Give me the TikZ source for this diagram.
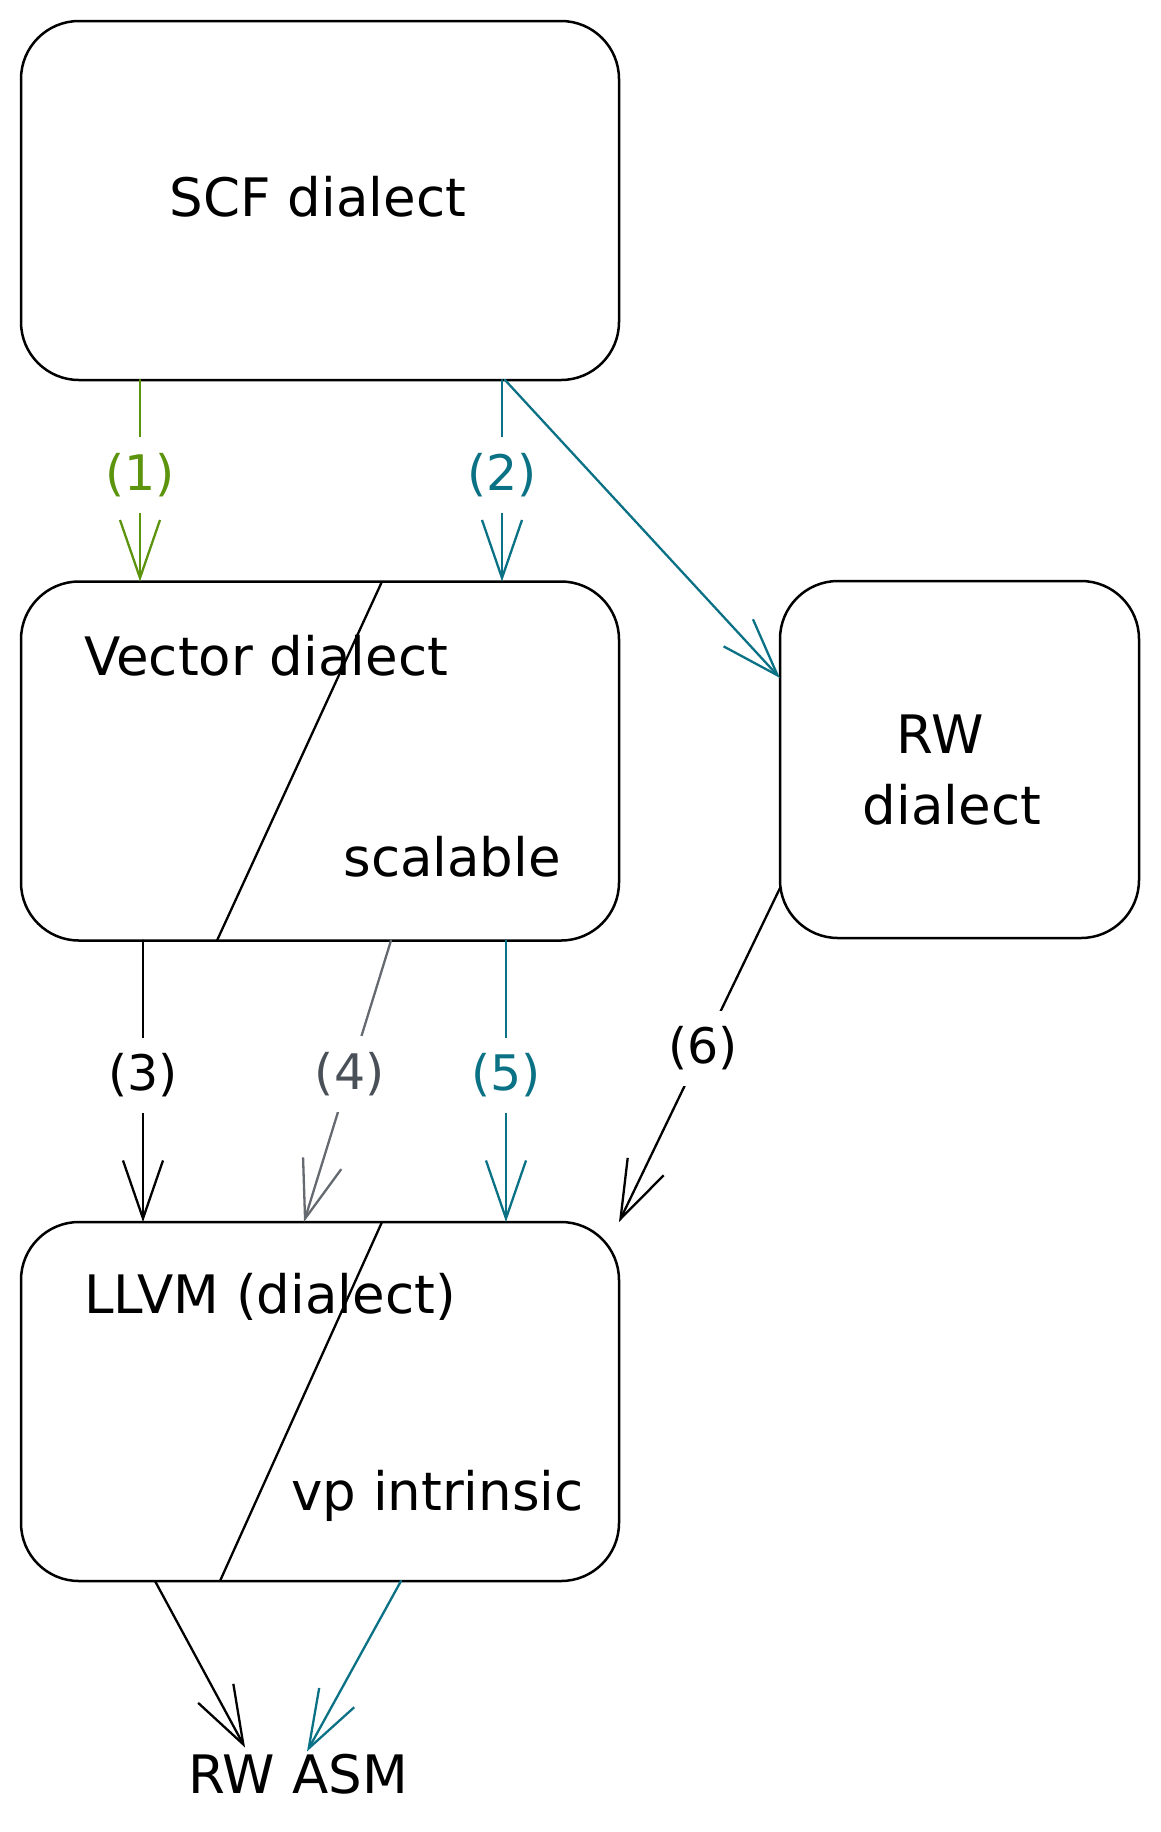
\documentclass[tikz,border=0pt]{standalone}
\usepackage{fontspec}
\setmainfont{DejaVu Sans}
\usetikzlibrary{arrows.meta}
\definecolor{cgreen}{HTML}{5C940D}
\definecolor{cteal}{HTML}{0B7285}
\definecolor{cgrey}{HTML}{495057}
\begin{document}
\begin{tikzpicture}[x=1pt,y=-1pt,
 box/.style={draw=black,line width=2.5pt,rounded corners=58pt,minimum width=598pt,minimum height=359pt,inner sep=0pt,outer sep=0pt},
 txt/.style={font=\fontsize{53}{58}\selectfont,inner sep=0pt},
 lbl/.style={font=\fontsize{49}{53}\selectfont,fill=white,inner sep=16pt},
 arr/.style={line width=2.3pt,line cap=round,-{Straight Barb[length=58pt,width=40pt]}},
 divline/.style={line width=2.3pt}]
\useasboundingbox (0,0) rectangle (1160,1832);

% boxes
\node[box] (scf) at (320,200.5) {};
\node[box] (vec) at (320,761) {};
\node[box,minimum width=359pt,minimum height=357pt] (rw) at (959.5,759.5) {};
\node[box] (llvm) at (320,1401.5) {};

% texts
\node[txt,anchor=base] (scft) at (318,216) {SCF dialect};
\node[txt,anchor=base west] (vect) at (84,675) {Vector dialect};
\node[txt,anchor=base east] (scal) at (561,876) {scalable};
\node[txt,anchor=base] (rwt1) at (940,753) {RW};
\node[txt,anchor=base] (rwt2) at (952,824) {dialect};
\node[txt,anchor=base west] (llvmt) at (84,1313) {LLVM (dialect)};
\node[txt,anchor=base east] (vpt) at (584,1510) {vp intrinsic};
\node[txt,anchor=base] (asm) at (298,1793) {RW ASM};

% dividing lines
\draw[divline] ([xshift=361pt]vec.north west) -- ([xshift=196pt]vec.south west);
\draw[divline] ([xshift=361pt]llvm.north west) -- ([xshift=199pt]llvm.south west);

% arrows
\draw[arr,cgreen] ([xshift=119pt]scf.south west) -- node[lbl,pos=0.47,text=cgreen] (l1) {(1)} ([xshift=119pt]vec.north west);
\draw[arr,cteal] ([xshift=481pt]scf.south west) -- node[lbl,pos=0.47,text=cteal] (l2) {(2)} ([xshift=481pt]vec.north west);
\draw[arr,cteal] ([xshift=484pt]scf.south west) -- ([yshift=-97pt]rw.north west);

\draw[arr,black] ([xshift=122pt]vec.south west) -- node[lbl,pos=0.48,text=black] (l3) {(3)} ([xshift=122pt]llvm.north west);
\draw[arr,cgrey!85] ([xshift=370pt]vec.south west) -- node[lbl,pos=0.475,text=cgrey] (l4) {(4)} ([xshift=283pt]llvm.north west);
\draw[arr,cteal] ([xshift=485pt]vec.south west) -- node[lbl,pos=0.48,text=cteal] (l5) {(5)} ([xshift=485pt]llvm.north west);
\draw[arr,black] ([yshift=50pt]rw.south west) -- node[lbl,pos=0.48,text=black] (l6) {(6)} (llvm.north east);

\draw[arr,black] ([xshift=134pt]llvm.south west) -- ([xshift=-53pt,yshift=6pt]asm.north);
\draw[arr,cteal] ([xshift=380pt]llvm.south west) -- ([xshift=9pt,yshift=2pt]asm.north);
\end{tikzpicture}
\end{document}
